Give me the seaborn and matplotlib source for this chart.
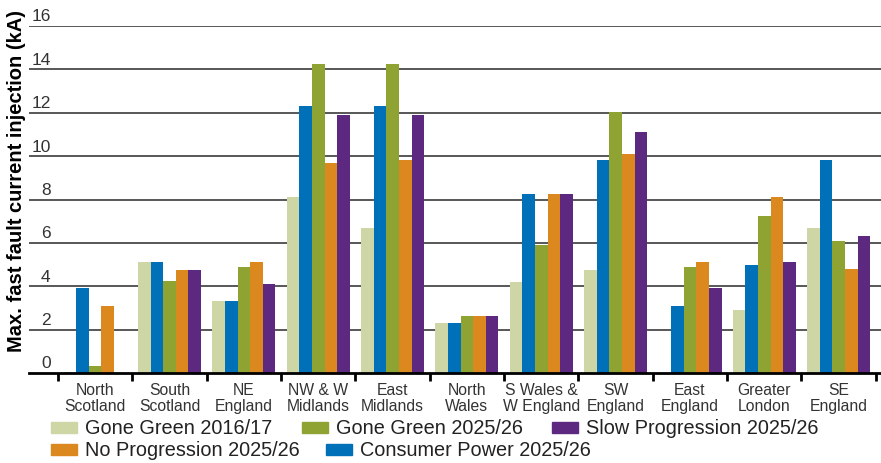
import matplotlib
matplotlib.use('Agg')
import matplotlib.pyplot as plt
import matplotlib.patches as mpatches
import pandas as pd
import seaborn as sns

# Data (kA)
regions = ['North\nScotland', 'South\nScotland', 'NE\nEngland', 'NW & W\nMidlands',
           'East\nMidlands', 'North\nWales', 'S Wales &\nW England', 'SW\nEngland',
           'East\nEngland', 'Greater\nLondon', 'SE\nEngland']

gone_green_2016 = [0.05, 5.1, 3.3, 8.1, 6.7, 2.3, 4.2, 4.75, 0, 2.9, 6.7]
consumer_power = [3.9, 5.1, 3.3, 12.3, 12.3, 2.3, 8.25, 9.8, 3.1, 5.0, 9.8]
gone_green_2025 = [0.3, 4.25, 4.9, 14.25, 14.25, 2.65, 5.9, 12.05, 4.9, 7.25, 6.1]
no_progression = [3.1, 4.75, 5.1, 9.7, 9.8, 2.65, 8.25, 10.1, 5.1, 8.1, 4.8]
slow_progression = [0, 4.75, 4.1, 11.9, 11.9, 2.65, 8.25, 11.1, 3.9, 5.1, 6.3]

series_names = ['Gone Green 2016/17', 'Consumer Power 2025/26', 'Gone Green 2025/26',
                'No Progression 2025/26', 'Slow Progression 2025/26']
series_values = [gone_green_2016, consumer_power, gone_green_2025, no_progression, slow_progression]
colors = ['#ced6a6', '#0070b8', '#8fa332', '#db881f', '#5d2980']

y_ticks = [0, 2, 4, 6, 8, 10, 12, 14, 16]

# long form table for seaborn
rows = []
for name, vals in zip(series_names, series_values):
    for reg, v in zip(regions, vals):
        rows.append({'Region': reg, 'Scenario': name, 'kA': v})
df = pd.DataFrame(rows)

sns.set_style('white')
plt.rcParams['font.family'] = ['Liberation Sans', 'DejaVu Sans']

fig = plt.figure(figsize=(8.81, 4.63), dpi=100)
ax = fig.add_axes([29 / 881, 1 - 373 / 463, 852 / 881, 347 / 463])

sns.barplot(
    data=df, x='Region', y='kA', hue='Scenario',
    order=regions, hue_order=series_names, palette=colors,
    width=0.85, saturation=1, linewidth=0, legend=False, ax=ax,
)

ax.set_xlim(-0.89, 10.57)
ax.set_ylim(0, 16)

# gridlines, with value labels sitting above them inside the plot
for v in y_ticks[1:]:
    ax.axhline(v, color='#4a4a4a', lw=1.3, zorder=0)
for v in y_ticks:
    ax.annotate(str(v), xy=(0, v), xycoords=('axes fraction', 'data'),
                xytext=(15.5, 3.3), textcoords='offset points',
                ha='right', va='baseline', fontsize=12.5, color='#333333',
                annotation_clip=False)
ax.set_yticks([])
ax.set_ylabel('')
ax.set_xlabel('')

for s in ['top', 'right', 'left']:
    ax.spines[s].set_visible(False)
ax.spines['bottom'].set_linewidth(2)
ax.spines['bottom'].set_color('black')

# labels in the middle, ticks on the category boundaries
ax.set_xticks(range(len(regions)))
ax.set_xticklabels(regions, fontsize=11.3, color='#333333', linespacing=1.05)
ax.tick_params(axis='x', which='major', length=0, pad=7.5)
ax.set_xticks([i - 0.5 for i in range(len(regions) + 1)], minor=True)
ax.tick_params(axis='x', which='minor', length=6, width=2, color='black', direction='out', bottom=True)

fig.text(17 / 881, 1 - 181 / 463, 'Max. fast fault current injection (kA)',
         rotation=90, ha='center', va='center', fontsize=14.5, fontweight='bold', color='black')

# legend in two rows, like the original
handles = {n: mpatches.Patch(color=c, label=n) for n, c in zip(series_names, colors)}
row1 = ['Gone Green 2016/17', 'Gone Green 2025/26', 'Slow Progression 2025/26']
row2 = ['No Progression 2025/26', 'Consumer Power 2025/26']
leg_kw = dict(frameon=False, fontsize=14.3, handlelength=1.3, handleheight=0.5,
              handletextpad=0.4, borderpad=0, borderaxespad=0, labelcolor='#222222')
leg1 = fig.legend(handles=[handles[n] for n in row1], ncol=3, loc='center left',
                  bbox_to_anchor=(51 / 881, 1 - 429 / 463), columnspacing=1.5, **leg_kw)
leg2 = fig.legend(handles=[handles[n] for n in row2], ncol=2, loc='center left',
                  bbox_to_anchor=(51 / 881, 1 - 451 / 463), columnspacing=1.35, **leg_kw)

fig.savefig('out.png', dpi=100)
